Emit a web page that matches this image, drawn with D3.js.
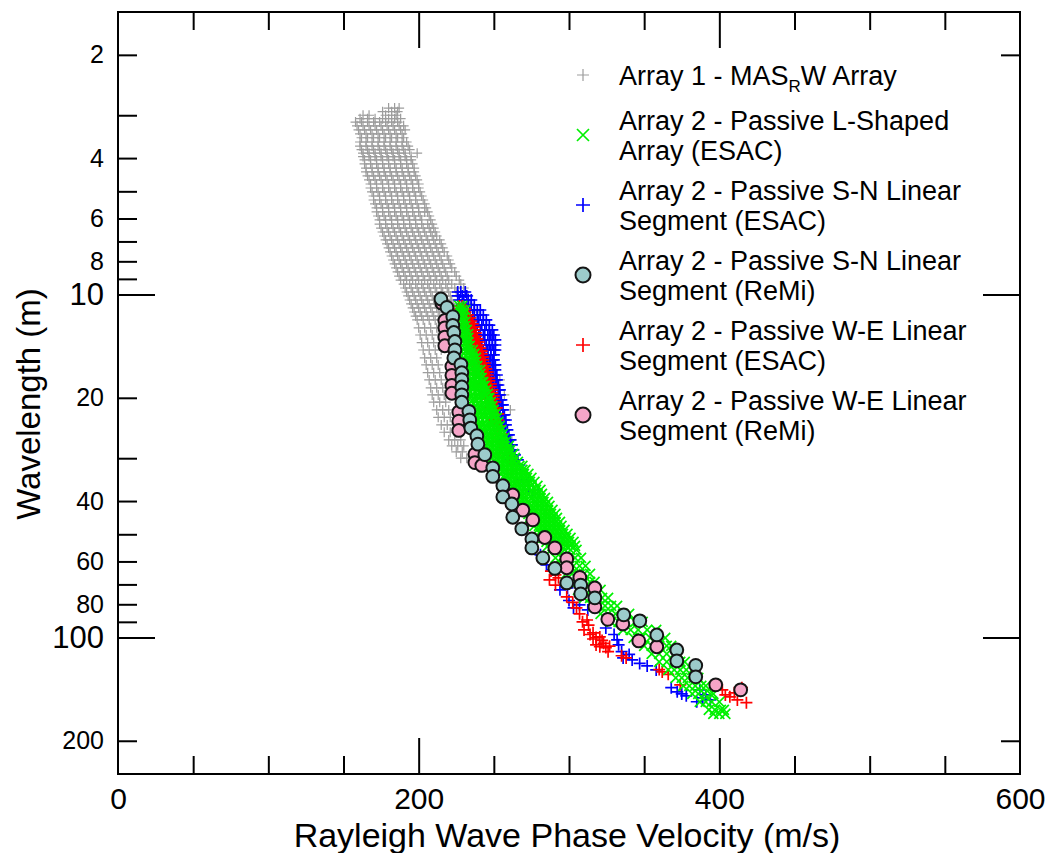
<!DOCTYPE html>
<html>
<head>
<meta charset="utf-8">
<script src="https://cdn.jsdelivr.net/npm/d3@7"></script>
<style>
  body { margin: 0; background: #fff; }
  svg { display: block; }
</style>
</head>
<body>
<svg id="chart" width="1045" height="853"></svg>
<script>
// Axis ranges and tick labels
const xDomain = [0, 600];
const yDomain = [1.5, 250];
const xLabelTicks = [0, 200, 400, 600];
const xMinorTicks = [50, 100, 150, 250, 300, 350, 450, 500, 550];
const xMajorTicks = [200, 400];
const yLabelTicks = [2, 4, 6, 8, 20, 40, 60, 80, 200];
const yMinorTicks = [3, 5, 7, 9, 30, 50, 70, 90];
const yDecadeTicks = [10, 100];
const yRightShort = [2, 200];

// Rows: [wavelength (m), [phase velocities (m/s)]]
const masrwRows = [
  [2.86, [180, 184, 187]],
  [2.93, [176, 182, 186]],
  [3.00, [163, 167, 178, 182, 185]],
  [3.07, [161, 166, 171, 176, 180, 184, 188]],
  [3.14, [158, 162, 166, 170, 174, 178, 182, 186]],
  [3.22, [159, 163, 167, 171, 175, 179, 183, 187, 190]],
  [3.31, [160, 164, 168, 172, 176, 180, 184, 188, 191]],
  [3.40, [161, 165, 169, 173, 177, 181, 185, 189]],
  [3.49, [162, 166, 170, 174, 178, 182, 186, 190]],
  [3.59, [161, 165, 169, 173, 177, 181, 185, 189, 192]],
  [3.69, [161, 165, 169, 173, 177, 181, 185, 189, 193]],
  [3.78, [162, 166, 170, 174, 178, 182, 186, 190, 194]],
  [3.87, [163, 167, 171, 175, 179, 183, 187, 191, 199]],
  [3.96, [163, 167, 171, 175, 179, 183, 187, 191, 195]],
  [4.05, [164, 168, 172, 176, 180, 184, 188, 192, 195]],
  [4.16, [164, 168, 172, 176, 180, 184, 188, 192, 196]],
  [4.28, [165, 169, 173, 177, 181, 185, 189, 193, 197]],
  [4.39, [165, 169, 173, 177, 181, 185, 189, 193, 197]],
  [4.51, [166, 170, 174, 178, 182, 186, 190, 194, 198]],
  [4.63, [167, 171, 175, 179, 183, 187, 191, 195, 199]],
  [4.76, [168, 172, 176, 180, 184, 188, 192, 196, 200]],
  [4.89, [168, 172, 176, 180, 184, 188, 192, 196, 200]],
  [5.02, [169, 173, 177, 181, 185, 189, 193, 197, 201]],
  [5.16, [170, 174, 178, 182, 186, 190, 194, 198, 202]],
  [5.30, [170, 174, 178, 182, 186, 190, 194, 198, 203]],
  [5.44, [171, 175, 179, 183, 187, 191, 195, 199, 204]],
  [5.59, [172, 176, 180, 184, 188, 192, 196, 200, 205]],
  [5.74, [172, 176, 180, 184, 188, 192, 196, 200, 204, 206]],
  [5.90, [173, 177, 181, 185, 189, 193, 197, 201, 207]],
  [6.06, [174, 178, 182, 186, 190, 194, 198, 202, 208]],
  [6.23, [174, 178, 182, 186, 190, 194, 198, 202, 206, 209]],
  [6.40, [175, 179, 183, 187, 191, 195, 199, 203, 207, 210]],
  [6.57, [176, 180, 184, 188, 192, 196, 200, 204, 208, 211]],
  [6.75, [177, 181, 185, 189, 193, 197, 201, 205, 209, 212]],
  [6.93, [178, 182, 186, 190, 194, 198, 202, 206, 210, 214]],
  [7.12, [179, 183, 187, 191, 195, 199, 203, 207, 211, 215]],
  [7.31, [180, 184, 188, 192, 196, 200, 204, 208, 212, 216]],
  [7.51, [181, 185, 189, 193, 197, 201, 205, 209, 213, 217]],
  [7.72, [182, 186, 190, 194, 198, 202, 206, 210, 214, 219]],
  [7.93, [183, 187, 191, 195, 199, 203, 207, 211, 215, 220]],
  [8.14, [184, 188, 192, 196, 200, 204, 208, 212, 216, 221]],
  [8.36, [185, 189, 193, 197, 201, 205, 209, 213, 217, 222]],
  [8.59, [186, 190, 194, 198, 202, 206, 210, 214, 218, 224]],
  [8.83, [187, 191, 195, 199, 203, 207, 211, 215, 219, 225]],
  [9.07, [188, 192, 196, 200, 204, 208, 212, 216, 220, 227]],
  [9.32, [190, 194, 198, 202, 206, 210, 214, 218, 222, 228]],
  [9.57, [191, 195, 199, 203, 207, 211, 215, 219, 224, 230]],
  [9.83, [192, 196, 200, 204, 208, 212, 216, 220, 225, 231]],
  [10.09, [193, 197, 201, 205, 209, 213, 217, 221, 226, 233]],
  [10.37, [194, 198, 202, 206, 210, 214, 218, 222, 227]],
  [10.65, [195, 199, 203, 207, 211, 215, 219, 223, 228, 234]],
  [10.94, [196, 200, 204, 208, 212, 216, 220, 224]],
  [11.24, [197, 201, 205, 209, 213, 217, 221, 225, 237]],
  [11.55, [198, 202, 206, 210, 214, 218]],
  [11.86, [199, 203, 207, 211, 215, 219, 229, 238]],
  [12.5, [200, 204, 208, 212, 216]],
  [13.12, [201, 205, 209, 213, 217, 224, 233, 241]],
  [13.8, [202, 206, 210, 214]],
  [14.51, [203, 207, 211, 215, 227, 237, 245]],
  [15.3, [204, 208, 212]],
  [16.04, [205, 209, 213, 231, 241, 250]],
  [16.9, [206, 210, 214]],
  [17.74, [207, 211, 215, 234, 245, 254]],
  [18.7, [208, 212, 216]],
  [19.62, [209, 213, 217, 238, 249, 257]],
  [20.6, [210, 214, 218]],
  [21.70, [212, 216, 220, 242, 253, 261]],
  [22.8, [213, 217, 221]],
  [24.00, [215, 219, 223, 247, 257]],
  [25.2, [217, 221, 225]],
  [26.54, [220, 224, 228, 252, 262]],
  [27.6, [222, 226, 230]],
  [28.76, [225, 229, 257]],
  [30.0, [228, 232]]
];

const lShapedRows = [
  [10.79, [227, 229]],
  [11.09, [227, 229, 231]],
  [11.39, [228, 230]],
  [11.70, [228, 230]],
  [12.02, [229, 231]],
  [12.35, [229, 231]],
  [12.68, [229, 231, 232]],
  [13.03, [229, 231, 233]],
  [13.38, [229, 231, 233]],
  [13.75, [229, 231, 233]],
  [14.12, [229, 232, 234]],
  [14.51, [230, 232, 234, 236]],
  [14.90, [230, 233, 235, 237]],
  [15.30, [230, 233, 236, 238]],
  [15.72, [231, 234, 236, 238]],
  [16.15, [231, 234, 237, 239]],
  [16.59, [232, 235, 237, 239, 241]],
  [17.04, [232, 235, 238, 241]],
  [17.51, [232, 235, 237, 239, 241, 242]],
  [17.99, [233, 236, 239, 242, 243]],
  [18.47, [233, 235, 237, 240, 243, 244]],
  [18.97, [233, 236, 239, 242, 245]],
  [19.49, [233, 236, 239, 241, 244, 246]],
  [20.03, [234, 237, 240, 243, 246, 247]],
  [20.57, [235, 238, 240, 243, 246, 248]],
  [21.12, [235, 238, 241, 244, 247, 249]],
  [21.70, [236, 239, 242, 245, 248, 250]],
  [22.29, [237, 240, 243, 246, 249, 251]],
  [22.90, [238, 241, 244, 247, 250, 252]],
  [23.52, [238, 241, 244, 247, 250, 253]],
  [24.16, [239, 242, 245, 248, 251, 254]],
  [24.82, [240, 243, 246, 249, 252, 255]],
  [25.49, [241, 244, 247, 250, 253, 256]],
  [26.19, [242, 245, 248, 251, 254, 257]],
  [26.89, [244, 247, 250, 253, 256, 258]],
  [27.63, [245, 248, 251, 254, 257, 260]],
  [28.38, [247, 250, 253, 256, 259, 261]],
  [29.16, [248, 251, 254, 257, 260, 263]],
  [29.95, [249, 252, 255, 258, 261, 264]],
  [30.77, [251, 254, 257, 260, 263, 266]],
  [31.60, [252, 255, 258, 261, 264, 267, 269]],
  [32.45, [254, 257, 260, 263, 266, 269, 271]],
  [33.35, [255, 258, 261, 264, 267, 270, 273]],
  [34.26, [257, 260, 263, 266, 269, 272, 275]],
  [35.18, [259, 262, 265, 268, 271, 274, 277]],
  [36.14, [260, 263, 266, 269, 272, 275, 279]],
  [37.12, [262, 265, 268, 271, 275, 278, 281]],
  [38.13, [264, 267, 270, 273, 276, 279, 282]],
  [39.17, [265, 268, 271, 275, 278, 281, 284]],
  [40.25, [267, 270, 273, 277, 280, 283, 286]],
  [41.33, [269, 272, 275, 278, 281, 284, 287]],
  [42.46, [271, 274, 277, 280, 283, 286, 289]],
  [43.61, [273, 276, 279, 282, 285, 288, 291]],
  [44.81, [274, 277, 280, 283, 286, 289, 292]],
  [46.02, [276, 279, 282, 285, 288, 291, 294]],
  [47.27, [277, 280, 283, 286, 289, 292, 295]],
  [48.56, [279, 282, 285, 288, 291, 294, 297]],
  [49.88, [281, 284, 287, 290, 293, 296, 299]],
  [51.24, [283, 286, 289, 292, 295, 298, 301]],
  [52.63, [285, 288, 291, 294, 297, 300, 303]],
  [54.07, [286, 289, 292, 295, 298, 301, 304]],
  [55.54, [288, 292, 297, 301, 305]],
  [58.60, [291, 295, 300, 304, 308]],
  [61.83, [295, 299, 303, 307, 311]],
  [65.25, [298, 302, 306, 310, 314]],
  [68.85, [302, 306, 310, 314, 317]],
  [72.64, [306, 310, 314, 318, 321]],
  [76.65, [310, 314, 318, 322, 326]],
  [80.90, [316, 320, 324, 328, 332]],
  [85.36, [321, 326, 331, 336, 340]],
  [90.08, [328, 333, 338, 344, 349]],
  [95.01, [336, 341, 346, 352, 358]],
  [100.3, [343, 348, 354, 359, 364]],
  [105.8, [350, 355, 360, 365, 368]],
  [111.6, [355, 360, 365, 370, 373]],
  [117.8, [360, 365, 370, 374, 377]],
  [124.3, [366, 370, 374, 378, 382]],
  [131.1, [371, 375, 379, 383, 386]],
  [138.4, [376, 380, 384, 388, 391]],
  [146.0, [382, 386, 390, 394, 396]],
  [154.0, [387, 391, 395, 400]],
  [162.6, [393, 397, 401, 403]],
  [167.0, [396, 400, 404]]
];

const snEsacRows = [
  [9.83, [226, 228, 231]],
  [10.09, [226, 229, 232]],
  [10.37, [227, 230, 233, 235]],
  [10.72, [229, 232, 235, 237]],
  [11.09, [231, 234, 237, 239, 241]],
  [11.47, [233, 236, 239, 241, 243]],
  [11.86, [234, 237, 240, 243, 245]],
  [12.27, [236, 239, 242, 245, 247]],
  [12.68, [238, 241, 244, 247, 249]],
  [13.12, [240, 243, 246, 248, 250]],
  [13.56, [241, 244, 247, 249, 251]],
  [14.03, [242, 245, 247, 249, 251]],
  [14.51, [243, 246, 248, 250, 251]],
  [15.0, [242, 244, 246, 248, 250]],
  [15.51, [243, 245, 247, 249, 250]],
  [16.04, [244, 246, 248, 250, 251]],
  [16.59, [245, 247, 249, 251]],
  [17.16, [246, 248, 250, 252]],
  [17.74, [247, 249, 251, 252]],
  [18.35, [248, 250, 252, 253]],
  [18.97, [249, 251, 253, 254]],
  [19.62, [249, 251, 253, 254]],
  [20.29, [250, 252, 254, 255]],
  [20.98, [251, 253, 255, 256]],
  [21.70, [252, 254, 256]],
  [22.44, [252, 254, 256, 257]],
  [23.21, [253, 255, 257, 258]],
  [24.00, [254, 256, 258]],
  [24.82, [254, 257, 259]],
  [25.66, [255, 257, 259, 260]],
  [26.54, [256, 258, 260, 261]],
  [27.45, [257, 259, 261, 262]],
  [28.38, [258, 260, 262, 263]],
  [29.35, [260, 262, 264]],
  [30.35, [261, 263, 266]],
  [31.38, [263, 265, 267]],
  [32.45, [265, 269]],
  [34.71, [269, 273]],
  [37.12, [273, 276]]
];
// [velocity, wavelength]
const snEsacLow = [
  [281, 57.4], [285, 61.4], [289, 63.5], [294, 72.6], [299, 71.7], [300, 78],
  [303, 82], [307, 80.3], [312.5, 83.1], [324.5, 93.8], [330, 98], [332, 101.6],
  [333, 105], [335, 110], [336, 114.7], [340, 112], [342, 116.2], [347, 119],
  [352, 121.0], [358, 124.3], [368, 140], [372, 144.0], [375, 146], [378, 147.9],
  [385, 153.9], [387, 142.1], [389, 150], [391, 147], [394, 152.0]
];

const weEsacRows = [
  [10.79, [227, 229]],
  [11.02, [227, 229, 231]],
  [11.24, [228, 230, 231]],
  [11.47, [228, 230, 232, 233]],
  [11.70, [229, 231, 233, 234]],
  [11.94, [229, 231, 233, 235]],
  [12.18, [230, 232, 234, 236]],
  [12.43, [230, 232, 234, 236, 237]],
  [12.68, [231, 233, 235, 237]],
  [12.94, [231, 233, 235, 237, 238]],
  [13.21, [232, 234, 236, 238]],
  [13.47, [232, 234, 236, 238, 239]],
  [13.75, [233, 235, 237, 239, 240]],
  [14.03, [233, 235, 237, 239, 240]],
  [14.32, [234, 236, 238, 240, 241]],
  [14.61, [235, 237, 239, 241, 242]],
  [14.90, [236, 238, 240, 242]],
  [15.20, [236, 238, 240, 242, 243]],
  [15.51, [237, 239, 241, 243]],
  [15.83, [237, 239, 241, 243, 244]],
  [16.15, [238, 240, 242, 244]],
  [16.48, [238, 240, 242, 244, 245]],
  [16.82, [239, 241, 243, 245, 246]],
  [17.16, [240, 242, 244, 246]],
  [17.51, [240, 242, 244, 246, 247]],
  [17.86, [241, 243, 245, 247]],
  [18.22, [242, 244, 246, 248]],
  [18.59, [242, 244, 246, 248]],
  [18.97, [243, 245, 247, 249]],
  [19.36, [244, 246, 248, 249]],
  [19.75, [244, 246, 248, 250]],
  [20.15, [245, 247, 249, 250]],
  [20.57, [245, 247, 249, 251]],
  [21.41, [247, 249, 251, 252]],
  [22.29, [249, 251, 253]],
  [23.21, [249, 251, 253]],
  [24.16, [250, 252, 254]],
  [25.49, [251, 253, 255]],
  [26.89, [253, 256]],
  [28.38, [254, 258]],
  [29.95, [256, 260]],
  [31.60, [259, 263]],
  [33.35, [261, 265]]
];
const weEsacLow = [
  [285, 42.5], [288, 64], [291, 65.7], [287, 67.9], [293, 67], [291, 70.3],
  [298.5, 76.1], [302.5, 79.0], [305, 82], [307, 85.3], [309, 90], [312, 88.9],
  [310, 95], [313, 92], [314, 98], [316, 96.9], [318, 100], [320.5, 99.6],
  [316, 101], [322, 102], [323, 104], [318, 105.1], [320.5, 106.4], [324.5, 107.0],
  [327, 106], [326, 110], [335, 113], [338, 114.7], [360, 124], [362, 126.0],
  [366, 128], [374, 137.4], [402, 142.1], [404, 147], [407, 148.9], [410, 145],
  [412, 152.0], [415, 140], [418, 154.9]
];

const snRemi = [
  [214.8, 10.3], [218.8, 10.9], [222.7, 11.6], [222.7, 12.3], [223.4, 12.9], [224.1, 13.7],
  [224.1, 14.5], [223.4, 15.3], [228.1, 16.0], [228.7, 16.9], [228.7, 17.7], [228.7, 18.6],
  [228.7, 19.6], [228.7, 20.6], [233.4, 21.9], [234.0, 23.2], [234.7, 24.5], [238.7, 25.8],
  [239.4, 27.3], [244.0, 29.3], [249.3, 32.0], [249.3, 33.9], [256.0, 36.1], [256.0, 38.9],
  [262.0, 40.8], [262.6, 44.6], [268.6, 48.2], [275.3, 51.6], [275.3, 54.8], [282.6, 58.6],
  [290.6, 62.9], [298.5, 69.3], [307.8, 70.3], [307.8, 74.6], [317.2, 76.6], [336.4, 85.9],
  [347.1, 89.4], [358.4, 98.3], [371.7, 108.7], [371.7, 117.0], [384.3, 120.6], [384.3, 130.2]
];

const weRemi = [
  [215.4, 10.6], [217.4, 11.9], [217.4, 12.5], [217.4, 13.3], [217.4, 14.1], [222.1, 16.2],
  [222.1, 17.2], [222.1, 18.4], [222.1, 19.4], [226.7, 22.0], [226.7, 23.4], [226.7, 24.9],
  [237.4, 29.2], [237.4, 30.9], [242.0, 31.5], [262.6, 38.4], [269.3, 42.5], [275.9, 45.4],
  [283.9, 51.1], [290.6, 54.8], [298.5, 59.0], [298.5, 62.6], [307.2, 66.8], [317.2, 71.7],
  [317.2, 81.4], [325.8, 88.5], [335.8, 91.3], [346.4, 102.3], [358.4, 106.4], [397.6, 137.4],
  [414.2, 142.1]
];

const legendNames = [
  ["Array 1 - MAS_RW Array"],
  ["Array 2 - Passive L-Shaped", "Array (ESAC)"],
  ["Array 2 - Passive S-N Linear", "Segment (ESAC)"],
  ["Array 2 - Passive S-N Linear", "Segment (ReMi)"],
  ["Array 2 - Passive W-E Linear", "Segment (ESAC)"],
  ["Array 2 - Passive W-E Linear", "Segment (ReMi)"]
];

const FONT = "'Liberation Sans', Arial, Helvetica, sans-serif";
const svg = d3.select("#chart");

const x = d3.scaleLinear().domain(xDomain).range([118, 1020]);
const y = d3.scaleLog().domain(yDomain).range([12, 774]);

const flat = rows => rows.flatMap(([lam, vs]) => vs.map(v => [v, lam]));

// marker shapes
const plus = s => `M${-s},0H${s}M0,${-s}V${s}`;
const cross = s => `M${-s},${-s}L${s},${s}M${-s},${s}L${s},${-s}`;

const styles = [
  { kind: "path", d: plus(5), color: "#9d9d9d", w: 1.2, legendD: plus(6) },
  { kind: "path", d: cross(5), color: "#00f000", w: 1.7, legendD: cross(6) },
  { kind: "path", d: plus(6), color: "#0000ff", w: 1.7, legendD: plus(7) },
  { kind: "circle", r: 6.4, fill: "#9ccccb", legendR: 7.5 },
  { kind: "path", d: plus(6), color: "#ff0000", w: 1.7, legendD: plus(7) },
  { kind: "circle", r: 6.4, fill: "#f5a5c8", legendR: 7.5 }
];

function drawPaths(points, st) {
  svg.append("g")
    .selectAll("path")
    .data(points)
    .join("path")
    .attr("transform", d => `translate(${x(d[0])},${y(d[1])})`)
    .attr("d", st.d)
    .attr("fill", "none")
    .attr("stroke", st.color)
    .attr("stroke-width", st.w);
}

function drawCircles(points, st) {
  svg.append("g")
    .selectAll("circle")
    .data(points)
    .join("circle")
    .attr("cx", d => x(d[0]))
    .attr("cy", d => y(d[1]))
    .attr("r", st.r)
    .attr("fill", st.fill)
    .attr("stroke", "#151515")
    .attr("stroke-width", 2);
}

// draw order: gray, blue, red, green, pink, teal
drawPaths(flat(masrwRows), styles[0]);
drawPaths(flat(snEsacRows).concat(snEsacLow), styles[2]);
drawPaths(flat(weEsacRows).concat(weEsacLow), styles[4]);
drawPaths(flat(lShapedRows), styles[1]);
drawCircles(weRemi, styles[5]);
drawCircles(snRemi, styles[3]);

// axes
function addAxis(gen, tx, ty, values, size, fmt, fontSize, pad) {
  const g = svg.append("g")
    .attr("transform", `translate(${tx},${ty})`)
    .call(gen.tickValues(values).tickSize(size).tickPadding(pad || 0)
      .tickFormat(fmt || (() => "")));
  g.attr("font-family", FONT).attr("font-size", fontSize || 10);
  g.select(".domain").remove();
  g.selectAll("line").attr("stroke", "#000").attr("stroke-width", 2);
  g.selectAll("text").attr("fill", "#000");
  return g;
}

const fmt = d3.format("d");
// left
addAxis(d3.axisLeft(y), 118, 0, yLabelTicks, -19, fmt, 25, 14);
addAxis(d3.axisLeft(y), 118, 0, yMinorTicks, -19);
addAxis(d3.axisLeft(y), 118, 0, yDecadeTicks, -37, fmt, 31, 14);
// right
addAxis(d3.axisRight(y), 1020, 0, yRightShort, -19);
addAxis(d3.axisRight(y), 1020, 0, yDecadeTicks, -37);
// bottom
addAxis(d3.axisBottom(x), 0, 774, xMinorTicks, -18);
addAxis(d3.axisBottom(x), 0, 774, xMajorTicks, -36);
addAxis(d3.axisBottom(x), 0, 774, xLabelTicks, 0, fmt, 30, 14);
// top
addAxis(d3.axisTop(x), 0, 12, xMinorTicks, -18);
addAxis(d3.axisTop(x), 0, 12, xMajorTicks, -36);

// frame
svg.append("rect")
  .attr("x", x(xDomain[0])).attr("y", y(yDomain[0]))
  .attr("width", x(xDomain[1]) - x(xDomain[0]))
  .attr("height", y(yDomain[1]) - y(yDomain[0]))
  .attr("fill", "none").attr("stroke", "#000").attr("stroke-width", 2);

// axis titles
svg.append("text")
  .attr("x", 567).attr("y", 847)
  .attr("text-anchor", "middle")
  .attr("font-family", FONT).attr("font-size", 34)
  .text("Rayleigh Wave Phase Velocity (m/s)");

svg.append("text")
  .attr("transform", "translate(40,404) rotate(-90)")
  .attr("text-anchor", "middle")
  .attr("font-family", FONT).attr("font-size", 33)
  .text("Wavelength (m)");

// legend
const legend = svg.append("g").attr("font-family", FONT).attr("font-size", 27);
let base = 85;
legendNames.forEach((lines, i) => {
  const st = styles[i];
  const cy = base - 10 + (lines.length - 1) * 15;
  if (st.kind === "path") {
    legend.append("path")
      .attr("transform", `translate(583,${cy})`)
      .attr("d", st.legendD).attr("fill", "none")
      .attr("stroke", st.color).attr("stroke-width", st.w);
  } else {
    legend.append("circle")
      .attr("cx", 583).attr("cy", cy).attr("r", st.legendR)
      .attr("fill", st.fill).attr("stroke", "#151515").attr("stroke-width", 2);
  }
  lines.forEach((line, j) => {
    const t = legend.append("text").attr("x", 619).attr("y", base + j * 30);
    const parts = line.split("_R");
    if (parts.length > 1) {
      t.append("tspan").text(parts[0]);
      t.append("tspan").attr("font-size", 17).attr("dy", 7).text("R");
      t.append("tspan").attr("dy", -7).text(parts[1]);
    } else {
      t.text(line);
    }
  });
  base += (lines.length - 1) * 30 + (i === 0 ? 45 : 40);
});
</script>
</body>
</html>
